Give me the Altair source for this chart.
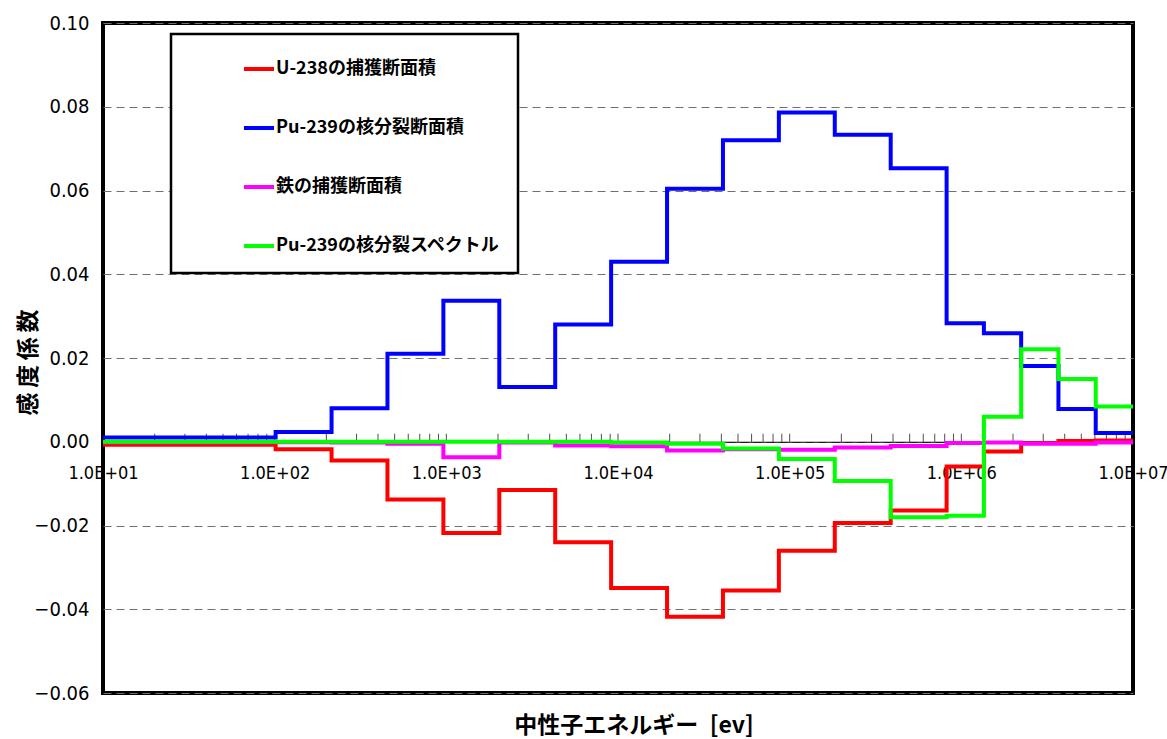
import altair as alt
import pandas as pd

# Energy group boundaries [eV]
energy_edges = [10, 101.3, 214.5, 454.0, 961.1, 2034.7, 4307, 9119, 19305, 40868,
                86517, 183156, 387742, 820850, 1353353, 2231302, 3678794, 6065307, 10000000]

# Sensitivity coefficient per group (low -> high energy)
u238_capture = [-0.0007, -0.0018, -0.0045, -0.0138, -0.0218, -0.0115, -0.0240, -0.0349, -0.0418,
                -0.0355, -0.0260, -0.0194, -0.0164, -0.0059, -0.0023, -0.0003, 0.0002, 0.0003]
pu239_fission = [0.0010, 0.0023, 0.0080, 0.0210, 0.0337, 0.0131, 0.0280, 0.0430, 0.0604,
                 0.0720, 0.0786, 0.0733, 0.0653, 0.0283, 0.0259, 0.0181, 0.0078, 0.0021]
iron_capture = [-0.0001, -0.0001, -0.0002, -0.0005, -0.0037, -0.0002, -0.0009, -0.0011, -0.0021,
                -0.0018, -0.0019, -0.0014, -0.0010, -0.0003, -0.0002, -0.0005, -0.0005, -0.0002]
pu239_spectrum = [0.0000, 0.0000, 0.0000, 0.0000, 0.0000, 0.0000, 0.0000, -0.0002, -0.0005,
                  -0.0016, -0.0041, -0.0094, -0.0180, -0.0177, 0.0060, 0.0221, 0.0150, 0.0084]

series_names = ["U-238の捕獲断面積", "Pu-239の核分裂断面積", "鉄の捕獲断面積", "Pu-239の核分裂スペクトル"]
series_colors = ["#FF0000", "#0000FF", "#FF00FF", "#00FF00"]
series_values = [u238_capture, pu239_fission, iron_capture, pu239_spectrum]

x_label_values = [1e1, 1e2, 1e3, 1e4, 1e5, 1e6, 1e7]
y_tick_values = [-0.06, -0.04, -0.02, 0.0, 0.02, 0.04, 0.06, 0.08, 0.10]
minor_tick_values = [m * 10 ** k for k in range(1, 7) for m in range(1, 10)] + [1e7]

rows = []
for name, vals in zip(series_names, series_values):
    for i, v in enumerate(vals):
        rows.append({"series": name, "energy": energy_edges[i], "value": v, "idx": i})
    rows.append({"series": name, "energy": energy_edges[-1], "value": vals[-1], "idx": len(vals)})
df = pd.DataFrame(rows)

num_font = "'DejaVu Sans Condensed', 'Liberation Sans Narrow', 'Noto Sans CJK JP', sans-serif"
jp_font = "'Noto Sans CJK JP', sans-serif"

x_scale = alt.Scale(type="log", domain=[10, 1e7], nice=False)
y_scale = alt.Scale(domain=[-0.06, 0.10], nice=False, zero=False)

x_axis = alt.Axis(values=x_label_values,
                  labelExpr="'1.0E+0' + round(log(datum.value)/LN10)",
                  offset=-251.25, ticks=False, domain=True, domainColor="black",
                  domainWidth=1.2, grid=False, labelFont=num_font, labelFontSize=18,
                  labelColor="black", labelPadding=23, labelFlush=False,
                  labelOverlap=False, title=None)
y_axis = alt.Axis(values=y_tick_values, format=".2f", labelFont=num_font, labelFontSize=20,
                  labelColor="black", labelPadding=14, ticks=False, domain=False,
                  grid=True, gridDash=[8, 5], gridColor="#707070", gridWidth=1,
                  title="感\u2009度\u2009係\u2009数", titleFont=jp_font, titleFontSize=23,
                  titleFontWeight="bold", titleColor="black", titleX=-75, titleY=339,
                  titleAlign="center", titleBaseline="middle")

x_enc = alt.X("energy:Q", scale=x_scale, axis=x_axis)
y_enc = alt.Y("value:Q", scale=y_scale, axis=y_axis)

color_enc = alt.Color(
    "series:N",
    scale=alt.Scale(domain=series_names, range=series_colors),
    legend=alt.Legend(orient="none", legendX=68, legendY=11, title=None,
                      symbolType="stroke", symbolSize=900, symbolStrokeWidth=4,
                      labelFont=jp_font, labelFontSize=18, labelFontWeight="bold",
                      labelColor="black", rowPadding=33, symbolOffset=53,
                      labelOffset=0, labelLimit=400, padding=18,
                      strokeColor="black", fillColor="white"),
)

ticks_df = pd.DataFrame({"energy": minor_tick_values, "value": [0.0] * len(minor_tick_values)})
ticks = alt.Chart(ticks_df).mark_tick(orient="vertical", size=8, thickness=1,
                                      color="black", yOffset=-4).encode(x=x_enc, y=y_enc)

base = alt.Chart(df)
line_layers = []
for name in series_names:
    line_layers.append(
        base.transform_filter(alt.datum.series == name)
        .mark_line(interpolate="step-after", strokeWidth=4)
        .encode(x=x_enc, y=y_enc, color=color_enc, order="idx:Q")
    )

chart = alt.layer(ticks, *line_layers).properties(
    width=1030, height=670,
    autosize=alt.AutoSizeParams(type="none"),
    padding={"left": 103, "top": 23, "right": 34, "bottom": 46},
    title=alt.TitleParams("中性子エネルギー\u2002[ev]", orient="bottom", anchor="middle",
                          font=jp_font, fontSize=23, fontWeight="bold", color="black",
                          offset=12, dx=16),
).configure_view(stroke="black", strokeWidth=4).configure_legend(strokeWidth=2.5)

chart.save("out.html", embed_options={"renderer": "svg", "actions": False})
